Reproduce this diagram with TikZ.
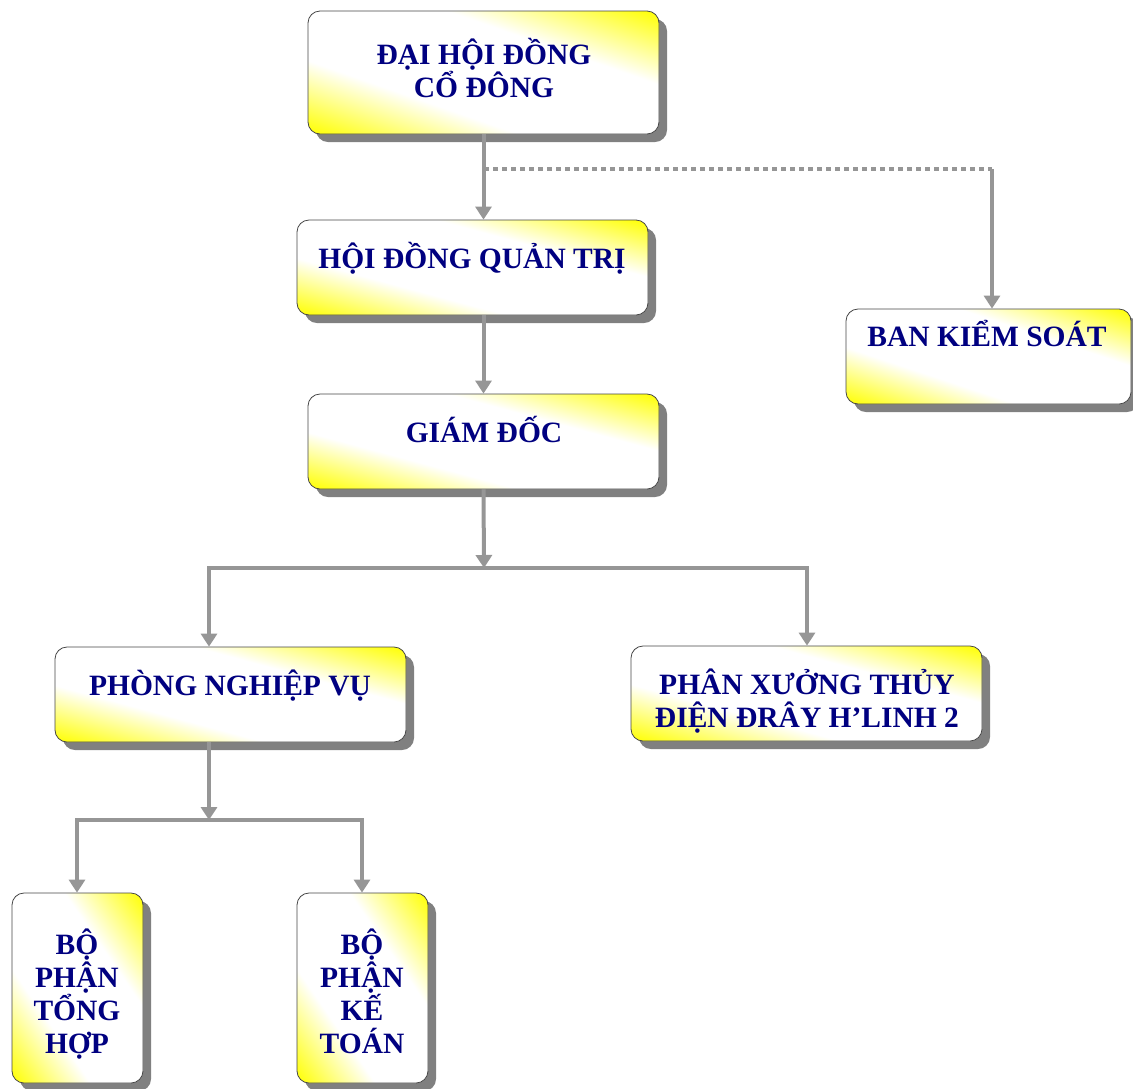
\documentclass[tikz,border=0pt]{standalone}
\usepackage{fontspec}
\setmainfont{Liberation Serif}
\usepackage{tikz}
\usetikzlibrary{arrows.meta,shadows}

\definecolor{navy}{RGB}{0,0,128}
\definecolor{linegray}{RGB}{150,150,150}
\definecolor{shadowgray}{RGB}{128,128,128}
\definecolor{boxedge}{RGB}{70,70,70}
\pgfdeclarehorizontalshading{yellowglow}{100bp}{color(0bp)=(yellow); color(37.5bp)=(yellow); color(45bp)=(white); color(55bp)=(white); color(62.5bp)=(yellow); color(100bp)=(yellow)}

\begin{document}
\begin{tikzpicture}[x=1pt,y=-1pt,
	box/.style={shape=rectangle,rounded corners=12pt,draw=boxedge,fill=white,line width=0.8pt,inner sep=0pt,
		drop shadow={shadow xshift=8pt,shadow yshift=-8pt,fill=shadowgray,opacity=1}},
	glow/.style 2 args={path picture={\shade[shading=yellowglow,shading angle=#1,
		shift={(path picture bounding box.center)}] (-#2,-#2) rectangle (#2,#2);}},
	widebox/.style={box,glow={74.9}{183.4},minimum width=351pt,minimum height=95pt},
	tallbox/.style={box,glow={34.6}{215.6},minimum width=131pt,minimum height=190pt},
	txt/.style={text=navy,font=\fontsize{29.5}{33}\selectfont\bfseries,align=center,inner sep=0pt,anchor=base},
	conn/.style={draw=linegray,line width=4pt},
	arr/.style={conn,-{Triangle[width=16pt,length=13pt]}},
	dots/.style={conn,dash pattern=on 5pt off 4pt}]
	\useasboundingbox (0,0) rectangle (1133,1088);

	\node[box,glow={70.8}{230.4},minimum width=351pt,minimum height=123pt] (dhcd) at (483.5,72.5) {};
	\node[widebox] (hdqt) at (472.5,267.5) {};
	\node[widebox] (gd) at (483.5,441.5) {};
	\node[box,glow={71.6}{180.2},minimum width=285pt,minimum height=95pt] (bks) at (988.5,356.5) {};
	\node[widebox] (pnv) at (230.5,694.5) {};
	\node[widebox] (px) at (806.5,693.5) {};
	\node[tallbox] (bth) at (77.5,988) {};
	\node[tallbox] (bkt) at (362.5,988) {};

	\node[txt] (dhcd-t) at (484,97) {ĐẠI HỘI ĐỒNG\\CỔ ĐÔNG};
	\node[txt] (hdqt-t) at (472,268) {HỘI ĐỒNG QUẢN TRỊ};
	\node[txt] (gd-t) at (484,442) {GIÁM ĐỐC};
	\node[txt] (bks-t) at (987,346) {BAN KIỂM SOÁT};
	\node[txt] (pnv-t) at (230,695) {PHÒNG NGHIỆP VỤ};
	\node[txt] (px-t) at (807,727) {PHÂN XƯỞNG THỦY\\ĐIỆN ĐRÂY H’LINH 2};
	\node[txt] (bth-t) at (77,1053) {BỘ\\PHẬN\\TỔNG\\HỢP};
	\node[txt] (bkt-t) at (362,1053) {BỘ\\PHẬN\\KẾ\\TOÁN};

	\coordinate (j1) at (484,169);
	\coordinate (j2) at (992,169);
	\coordinate (j3) at (484,568);
	\coordinate (j4) at (209,568);
	\coordinate (j5) at (807,568);
	\coordinate (j6) at (209,820);
	\coordinate (j7) at (77,820);
	\coordinate (j8) at (362,820);

	\draw [arr] (dhcd.south) -- (dhcd.south |- hdqt.north);
	\draw [dots] (j1) -- (j2);
	\draw [arr] (j2) -- (j2 |- bks.north);
	\draw [arr] (hdqt.south -| gd.north) -- (gd.north);
	\draw [arr] (gd.south) -- (j3);
	\draw [arr] (j3) -- (j4) -- (j4 |- pnv.north);
	\draw [arr] (j3) -- (j5) -- (j5 |- px.north);
	\draw [arr] (j6 |- pnv.south) -- (j6);
	\draw [arr] (j6) -- (j7) -- (j7 |- bth.north);
	\draw [arr] (j6) -- (j8) -- (j8 |- bkt.north);
\end{tikzpicture}
\end{document}
